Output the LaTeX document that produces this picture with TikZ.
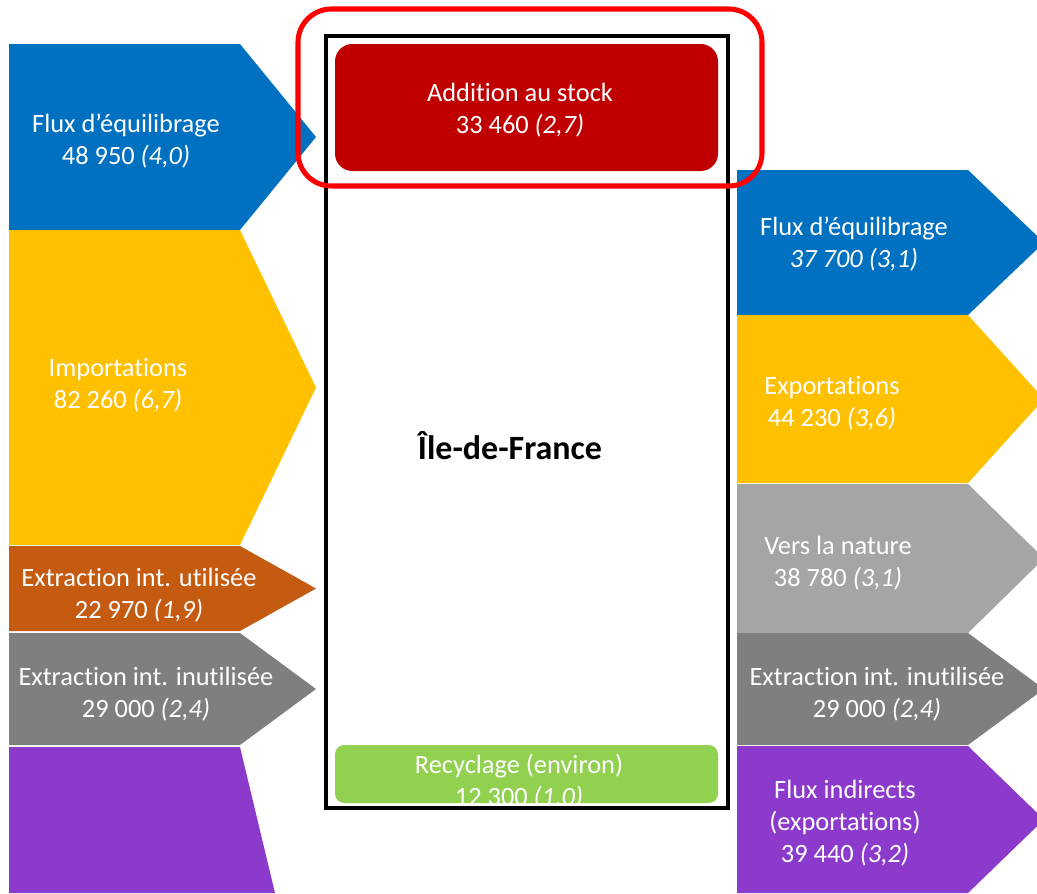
\documentclass[tikz,border=0pt]{standalone}
\usepackage{fontspec}
\setmainfont{Carlito}[Ligatures=NoCommon]
\definecolor{cblue}{RGB}{0,112,192}
\definecolor{cyellow}{RGB}{255,192,0}
\definecolor{corange}{RGB}{197,90,17}
\definecolor{cgray}{RGB}{127,127,127}
\definecolor{clgray}{RGB}{165,165,165}
\definecolor{cpurple}{RGB}{139,58,203}
\definecolor{cdred}{RGB}{192,0,0}
\definecolor{cgreen}{RGB}{146,208,80}
\begin{document}
\begin{tikzpicture}[x=0.75pt,y=-0.75pt,
  lbl/.style={text=white,align=center,font=\fontsize{19.8}{24}\selectfont,inner sep=0pt},
  frame/.style={draw=black,line width=2.3pt},
  hilite/.style={draw={rgb,255:red,255;green,0;blue,0},line width=3.8pt,rounded corners=25pt}]
\useasboundingbox (0,0) rectangle (1037,893);
\begin{scope}
\clip (0,0) rectangle (1037,893);
% left chevrons
\fill[cblue]   (9,44)  -- (240,44)  -- (316,137)   -- (240,230) -- (9,230) -- cycle;
\fill[cyellow] (9,230) -- (240,230) -- (316,387.5) -- (240,545) -- (9,545) -- cycle;
\fill[corange] (9,546) -- (240,546) -- (316,588.5) -- (240,631) -- (9,631) -- cycle;
\fill[cgray]   (9,633) -- (240,633) -- (316,689)   -- (240,745) -- (9,745) -- cycle;
\fill[cpurple] (9,747) -- (240,747) -- (275,893) -- (9,893) -- cycle;
% right chevrons
\fill[cblue]   (737,170) -- (968,170) -- (1044,242.5) -- (968,315) -- (737,315) -- cycle;
\fill[cyellow] (737,315) -- (968,315) -- (1044,399)   -- (968,483) -- (737,483) -- cycle;
\fill[clgray]  (737,484) -- (968,484) -- (1044,558.5) -- (968,633) -- (737,633) -- cycle;
\fill[cgray]   (737,633) -- (968,633) -- (1044,689)   -- (968,745) -- (737,745) -- cycle;
\fill[cpurple] (737,746) -- (968,746) -- (1044,819.5) -- (968,893) -- (737,893) -- cycle;
\end{scope}
% inner boxes
\fill[cdred,rounded corners=13pt] (335,44) rectangle (718,171);
\fill[cgreen,rounded corners=7pt] (335,745) rectangle (718,803);
% labels
\node[lbl] (l1) at (126,141) {Flux d’équilibrage\\48 950 \textit{(4,0)}};
\node[lbl] (l2) at (118,385) {Importations\\82 260 \textit{(6,7)}};
\node[lbl] (l3) at (139,595) {Extraction int. utilisée\\22 970 \textit{(1,9)}};
\node[lbl] (l4) at (146,694) {Extraction int. inutilisée\\29 000 \textit{(2,4)}};
\node[lbl] (r1) at (854,244) {Flux d’équilibrage\\\textit{37 700 (3,1)}};
\node[lbl] (r2) at (832,403) {Exportations\\44 230 \textit{(3,6)}};
\node[lbl] (r3) at (838,563) {Vers la nature\\38 780 \textit{(3,1)}};
\node[lbl] (r4) at (877,694) {Extraction int. inutilisée\\29 000 \textit{(2,4)}};
\node[lbl] (r5) at (845,823) {Flux indirects\\(exportations)\\39 440 \textit{(3,2)}};
\node[lbl] (st) at (520,110.5) {Addition au stock\\33 460 \textit{(2,7)}};
\node[lbl] (re) at (519,782) {Recyclage (environ)\\12 300 \textit{(1,0)}};
\node[font=\fontsize{25.5}{30}\selectfont\bfseries,inner sep=0pt] (idf) at (510,446) {Île-de-France};
% frames
\draw[frame] (326,36) rectangle (728,808);
\draw[hilite] (298,9) rectangle (762,186);
\end{tikzpicture}
\end{document}
